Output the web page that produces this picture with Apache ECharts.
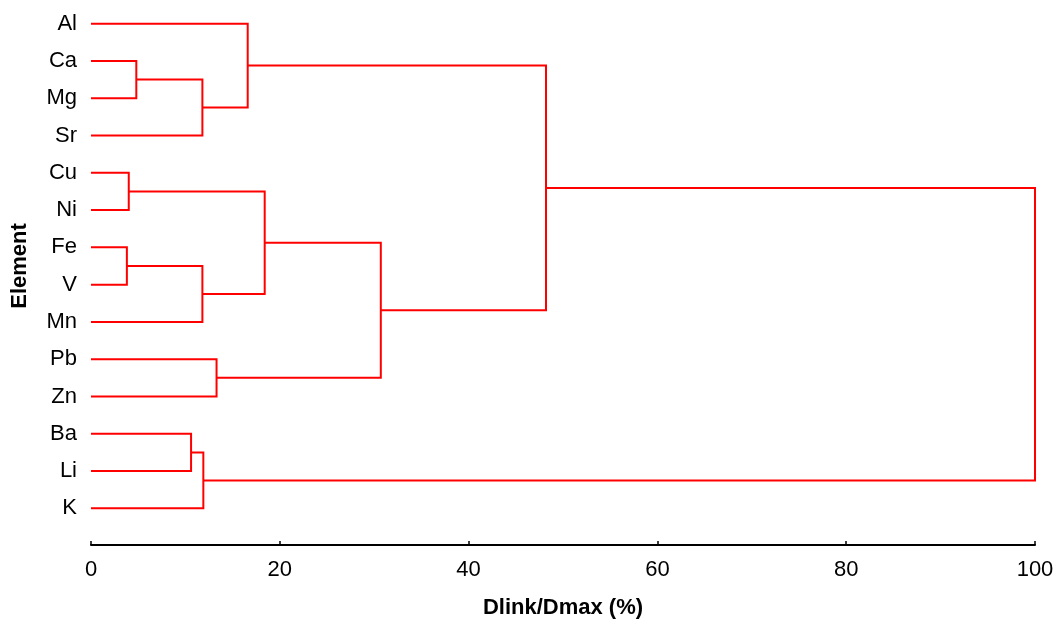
<!DOCTYPE html>
<html>
<head>
<meta charset="utf-8">
<script src="https://cdn.jsdelivr.net/npm/echarts@6/dist/echarts.min.js"></script>
<style>
html,body{margin:0;padding:0;background:#fff;}
#chart{width:1060px;height:621px;}
</style>
</head>
<body>
<div id="chart"></div>
<script>
// Leaves, top to bottom
const elements = ['Al','Ca','Mg','Sr','Cu','Ni','Fe','V','Mn','Pb','Zn','Ba','Li','K'];
// Merges: node ids 0..13 are leaves, merge k creates node 14+k
const mergeLeft   = [1, 14, 0, 4, 6, 18, 17, 9, 20, 16, 11, 24, 23];
const mergeRight  = [2, 3, 15, 5, 7, 8, 19, 10, 21, 22, 12, 13, 25];
const mergeHeight = [4.8, 11.8, 16.6, 4.0, 3.8, 11.8, 18.4, 13.3, 30.7, 48.2, 10.6, 11.9, 100];
const xTicks = [0, 20, 40, 60, 80, 100];

// Node positions (x = linkage distance, y = leaf order position)
const nodeX = elements.map(() => 0);
const nodeY = elements.map((_, i) => i);
mergeHeight.forEach((h, k) => {
  nodeX.push(h);
  nodeY.push((nodeY[mergeLeft[k]] + nodeY[mergeRight[k]]) / 2);
});
const linkData = mergeHeight.map((h, k) => [k]);

function yPix(api, yv) {
  const lo = Math.floor(yv), hi = Math.ceil(yv);
  const pl = api.coord([0, lo])[1];
  const ph = api.coord([0, hi])[1];
  return pl + (ph - pl) * (yv - lo);
}

const chart = echarts.init(document.getElementById('chart'));
chart.setOption({
  animation: false,
  grid: { left: 91, right: 25, top: 5, bottom: 94, outerBoundsMode: 'none', containLabel: false },
  xAxis: {
    type: 'value',
    min: 0, max: 100, interval: 20,
    offset: 18,
    name: 'Dlink/Dmax (%)',
    nameLocation: 'middle',
    nameGap: 52,
    nameTextStyle: { fontFamily: 'Liberation Sans', fontSize: 22, fontWeight: 'bold', color: '#000' },
    axisLine: { show: true, lineStyle: { color: '#000', width: 2 } },
    axisTick: { show: true, inside: true, length: 4, lineStyle: { color: '#000', width: 1.5 } },
    axisLabel: { fontFamily: 'Liberation Sans', fontSize: 22, color: '#000', margin: 14,
      formatter: v => xTicks.includes(v) ? String(v) : '' },
    splitLine: { show: false }
  },
  yAxis: {
    type: 'category',
    inverse: true,
    data: elements,
    boundaryGap: true,
    name: 'Element',
    nameLocation: 'middle',
    nameRotate: 90,
    nameGap: 60,
    nameTextStyle: { fontFamily: 'Liberation Sans', fontSize: 22, fontWeight: 'bold', color: '#000' },
    axisLine: { show: false },
    axisTick: { show: false },
    axisLabel: { fontFamily: 'Liberation Sans', fontSize: 22, color: '#000', margin: 14 },
    splitLine: { show: false }
  },
  series: [{
    type: 'custom',
    clip: false,
    data: linkData,
    renderItem: function (params, api) {
      const k = api.value(0);
      const a = mergeLeft[k], b = mergeRight[k];
      const h = mergeHeight[k];
      const xa = api.coord([nodeX[a], 0])[0];
      const xb = api.coord([nodeX[b], 0])[0];
      const xh = api.coord([h, 0])[0];
      const ya = yPix(api, nodeY[a]);
      const yb = yPix(api, nodeY[b]);
      return {
        type: 'polyline',
        shape: { points: [[xa, ya], [xh, ya], [xh, yb], [xb, yb]] },
        style: { stroke: '#ff0000', lineWidth: 2, fill: null }
      };
    }
  }]
});
</script>
</body>
</html>
